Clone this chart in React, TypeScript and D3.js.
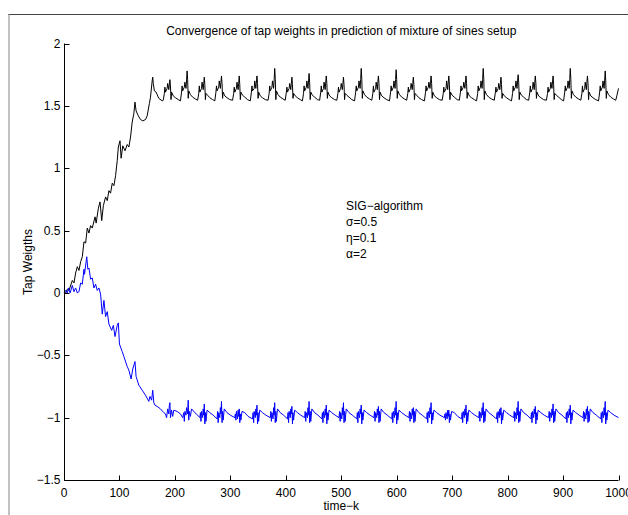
import React from "react";
import * as d3 from "d3";

const xTicks = [0, 100, 200, 300, 400, 500, 600, 700, 800, 900, 1000];
const yTicks = [-1.5, -1, -0.5, 0, 0.5, 1, 1.5, 2];
const titleText = "Convergence of tap weights in prediction of mixture of sines setup";
const xLabel = "time\u2212k";
const yLabel = "Tap Weigths";
const noteLines = ["SIG\u2212algorithm", "\u03c3=0.5", "\u03b7=0.1", "\u03b1=2"];

// black series: [k, weight]
const tapWeight1: [number, number][] = [
  [0,0],[3,0.0],[6,0.03],[9,0.02],[15,0.10],[18,0.08],[21,0.16],[24,0.21],[27,0.18],[30,0.25],[33,0.29],[36,0.41],[39,0.40],[42,0.52],[45,0.48],[48,0.54],[51,0.52],[56,0.61],[58,0.56],[62,0.68],[65,0.73],[68,0.58],[71,0.70],[75,0.77],[78,0.74],[81,0.82],[84,0.80],[87,0.88],[90,0.86],[93,0.94],[96,1.06],[98,1.17],[101,1.22],[103,1.08],[106,1.18],[110,1.14],[114,1.19],[117,1.17],[120,1.25],[123,1.37],[126,1.44],[128,1.53],[130,1.46],[134,1.42],[138,1.39],[142,1.38],[147,1.39],[150,1.42],[154,1.52],[156,1.57],[159,1.70],[160,1.73],[161,1.68],[163,1.62],[166,1.61],[171,1.56],[177,1.54],
  [179,1.545],[181,1.60],[182,1.65],[183,1.61],[186,1.64],[187,1.68],[189,1.63],[190,1.67],[191,1.71],[192,1.66],[193,1.55],[194,1.61],[197,1.58],[201,1.565],[206,1.55],
  [210,1.54],[212,1.61],[213,1.66],[214,1.62],[217,1.65],[218,1.69],[220,1.64],[221,1.70],[222,1.78],[223,1.71],[224,1.56],[225,1.62],[228,1.59],[232,1.57],[237,1.555],
  [241,1.545],[243,1.60],[244,1.66],[245,1.61],[248,1.64],[249,1.69],[251,1.63],[252,1.68],[253,1.73],[254,1.67],[255,1.55],[256,1.60],[259,1.585],[263,1.565],[268,1.55],
  [272,1.54],[274,1.61],[275,1.66],[276,1.62],[279,1.65],[280,1.70],[282,1.64],[283,1.69],[284,1.74],[285,1.68],[286,1.56],[287,1.61],[290,1.58],[294,1.565],[299,1.55],
  [304,1.545],[306,1.60],[307,1.65],[308,1.61],[311,1.64],[312,1.69],[314,1.63],[315,1.68],[316,1.74],[317,1.67],[318,1.55],[319,1.61],[322,1.585],[326,1.57],[331,1.55],
  [336,1.54],[338,1.61],[339,1.66],[340,1.62],[343,1.64],[344,1.70],[346,1.64],[347,1.69],[348,1.74],[349,1.68],[350,1.56],[351,1.61],[354,1.58],[358,1.565],[363,1.55],
  [368,1.545],[370,1.60],[371,1.66],[372,1.62],[375,1.65],[376,1.70],[378,1.64],[379,1.71],[380,1.80],[381,1.72],[382,1.55],[383,1.62],[386,1.59],[390,1.57],[395,1.555],
  [399,1.545],[401,1.61],[402,1.65],[403,1.61],[406,1.64],[407,1.68],[409,1.63],[410,1.68],[411,1.73],[412,1.67],[413,1.56],[414,1.60],[417,1.58],[421,1.565],[426,1.55],
  [430,1.54],[432,1.60],[433,1.66],[434,1.62],[437,1.65],[438,1.70],[440,1.64],[441,1.70],[442,1.76],[443,1.69],[444,1.55],[445,1.61],[448,1.585],[452,1.57],[457,1.55],
  [461,1.545],[463,1.61],[464,1.66],[465,1.61],[468,1.64],[469,1.69],[471,1.63],[472,1.69],[473,1.74],[474,1.68],[475,1.56],[476,1.61],[479,1.58],[483,1.565],[488,1.55],
  [492,1.545],[494,1.60],[495,1.65],[496,1.61],[499,1.64],[500,1.68],[502,1.63],[503,1.68],[504,1.73],[505,1.67],[506,1.55],[507,1.60],[510,1.585],[514,1.57],[519,1.55],
  [524,1.54],[526,1.61],[527,1.66],[528,1.62],[531,1.65],[532,1.70],[534,1.64],[535,1.71],[536,1.80],[537,1.72],[538,1.56],[539,1.62],[542,1.59],[546,1.57],[551,1.555],
  [555,1.545],[557,1.60],[558,1.66],[559,1.61],[562,1.64],[563,1.69],[565,1.63],[566,1.69],[567,1.74],[568,1.68],[569,1.55],[570,1.61],[573,1.58],[577,1.565],[582,1.55],
  [587,1.54],[589,1.61],[590,1.66],[591,1.62],[594,1.65],[595,1.70],[597,1.64],[598,1.71],[599,1.79],[600,1.71],[601,1.56],[602,1.62],[605,1.59],[609,1.57],[614,1.555],
  [618,1.545],[620,1.60],[621,1.65],[622,1.61],[625,1.64],[626,1.68],[628,1.63],[629,1.68],[630,1.73],[631,1.67],[632,1.55],[633,1.60],[636,1.585],[640,1.565],[645,1.55],
  [650,1.54],[652,1.61],[653,1.66],[654,1.62],[657,1.65],[658,1.69],[660,1.64],[661,1.69],[662,1.74],[663,1.68],[664,1.56],[665,1.61],[668,1.58],[672,1.565],[677,1.55],
  [682,1.545],[684,1.60],[685,1.65],[686,1.61],[689,1.64],[690,1.70],[692,1.63],[693,1.69],[694,1.74],[695,1.67],[696,1.55],[697,1.61],[700,1.585],[704,1.57],[709,1.55],
  [713,1.545],[715,1.61],[716,1.66],[717,1.62],[720,1.65],[721,1.69],[723,1.64],[724,1.69],[725,1.74],[726,1.68],[727,1.56],[728,1.61],[731,1.58],[735,1.565],[740,1.55],
  [744,1.54],[746,1.60],[747,1.66],[748,1.62],[751,1.65],[752,1.70],[754,1.64],[755,1.71],[756,1.80],[757,1.72],[758,1.55],[759,1.62],[762,1.59],[766,1.57],[771,1.555],
  [776,1.545],[778,1.61],[779,1.65],[780,1.61],[783,1.64],[784,1.68],[786,1.63],[787,1.68],[788,1.73],[789,1.67],[790,1.56],[791,1.60],[794,1.58],[798,1.565],[803,1.55],
  [807,1.54],[809,1.60],[810,1.66],[811,1.62],[814,1.65],[815,1.70],[817,1.64],[818,1.70],[819,1.75],[820,1.69],[821,1.55],[822,1.61],[825,1.585],[829,1.57],[834,1.55],
  [838,1.545],[840,1.61],[841,1.66],[842,1.61],[845,1.64],[846,1.69],[848,1.63],[849,1.69],[850,1.74],[851,1.68],[852,1.56],[853,1.61],[856,1.58],[860,1.565],[865,1.55],
  [870,1.545],[872,1.60],[873,1.65],[874,1.61],[877,1.64],[878,1.69],[880,1.64],[881,1.69],[882,1.74],[883,1.67],[884,1.55],[885,1.60],[888,1.585],[892,1.57],[897,1.55],
  [901,1.54],[903,1.61],[904,1.66],[905,1.62],[908,1.65],[909,1.70],[911,1.64],[912,1.71],[913,1.80],[914,1.72],[915,1.56],[916,1.62],[919,1.59],[923,1.57],[928,1.555],
  [932,1.545],[934,1.60],[935,1.66],[936,1.61],[939,1.64],[940,1.69],[942,1.63],[943,1.69],[944,1.74],[945,1.68],[946,1.55],[947,1.61],[950,1.58],[954,1.565],[959,1.55],
  [964,1.54],[966,1.61],[967,1.66],[968,1.62],[971,1.65],[972,1.70],[974,1.64],[975,1.70],[976,1.78],[977,1.70],[978,1.56],[979,1.62],[982,1.59],[986,1.57],[991,1.555],
  [995,1.545],[997,1.58],[999,1.62],[1000,1.64]
];

// blue series: [k, weight]
const tapWeight2: [number, number][] = [
  [0,0],[3,0.02],[6,0.0],[8,0.04],[11,0.0],[15,0.06],[18,0.01],[21,0.04],[24,0.0],[27,0.01],[30,0.08],[33,0.07],[36,0.19],[37,0.15],[41,0.29],[43,0.19],[45,0.20],[48,0.11],[51,0.12],[54,0.04],[57,0.07],[60,0.02],[63,0.04],[66,-0.01],[69,-0.17],[72,-0.06],[75,-0.19],[78,-0.15],[81,-0.25],[86,-0.30],[89,-0.26],[92,-0.35],[96,-0.26],[98,-0.24],[100,-0.41],[105,-0.47],[108,-0.51],[114,-0.59],[117,-0.62],[121,-0.69],[124,-0.61],[128,-0.55],[130,-0.67],[135,-0.74],[141,-0.78],[147,-0.82],[153,-0.87],[155,-0.83],[158,-0.86],[160,-0.78],[162,-0.88],[164,-0.90],[168,-0.91],[174,-0.93],[180,-0.96],[183,-0.97],[185,-1.00],[187,-0.93],[189,-0.97],[190,-0.90],[191,-0.88],[192,-1.00],[194,-0.94],[196,-0.99],[198,-0.94],[204,-0.95],[210,-0.97],[214,-1.00],[216,-0.96],[217,-1.03],[218,-0.95],[220,-0.98],[221,-0.92],[223,-0.97],[224,-0.86],[225,-1.02],[226,-0.95],[228,-0.99],[230,-0.93],[236,-0.96],[241,-0.98],
  [245,-1.00],[246,-0.96],[247,-1.03],[248,-0.95],[250,-1.00],[251,-0.93],[252,-0.98],[253,-0.89],[254,-1.05],[255,-0.96],[256,-1.03],[258,-0.94],[263,-0.96],[269,-0.98],
  [276,-1.01],[277,-0.95],[278,-1.04],[279,-0.96],[281,-1.00],[282,-0.92],[283,-0.97],[284,-0.87],[285,-1.04],[286,-0.95],[287,-1.02],[289,-0.93],[294,-0.96],[300,-0.98],
  [308,-1.00],[309,-0.97],[310,-1.02],[311,-0.95],[313,-1.01],[314,-0.94],[315,-0.99],[316,-0.93],[317,-1.04],[318,-0.97],[319,-1.02],[321,-0.95],[326,-0.96],[332,-0.99],
  [340,-1.01],[341,-0.96],[342,-1.04],[343,-0.95],[345,-1.00],[346,-0.93],[347,-0.98],[348,-0.90],[349,-1.05],[350,-0.96],[351,-1.03],[353,-0.94],[358,-0.96],[364,-0.98],
  [372,-1.00],[373,-0.95],[374,-1.03],[375,-0.96],[377,-1.01],[378,-0.92],[379,-0.98],[380,-0.88],[381,-1.04],[382,-0.95],[383,-1.03],[385,-0.93],[390,-0.96],[396,-0.98],
  [403,-1.01],[404,-0.96],[405,-1.04],[406,-0.95],[408,-1.00],[409,-0.93],[410,-0.97],[411,-0.91],[412,-1.05],[413,-0.96],[414,-1.02],[416,-0.94],[421,-0.96],[427,-0.98],
  [434,-1.00],[435,-0.95],[436,-1.03],[437,-0.96],[439,-1.00],[440,-0.92],[441,-0.98],[442,-0.87],[443,-1.04],[444,-0.95],[445,-1.03],[447,-0.93],[452,-0.96],[458,-0.98],
  [465,-1.01],[466,-0.96],[467,-1.04],[468,-0.95],[470,-1.00],[471,-0.93],[472,-0.98],[473,-0.90],[474,-1.05],[475,-0.96],[476,-1.02],[478,-0.94],[483,-0.96],[489,-0.98],
  [496,-1.00],[497,-0.95],[498,-1.03],[499,-0.96],[501,-1.01],[502,-0.92],[503,-0.98],[504,-0.88],[505,-1.04],[506,-0.95],[507,-1.03],[509,-0.93],[514,-0.96],[520,-0.98],
  [528,-1.01],[529,-0.96],[530,-1.04],[531,-0.95],[533,-1.00],[534,-0.93],[535,-0.97],[536,-0.90],[537,-1.05],[538,-0.96],[539,-1.02],[541,-0.94],[546,-0.96],[552,-0.98],
  [559,-1.00],[560,-0.95],[561,-1.03],[562,-0.96],[564,-1.00],[565,-0.93],[566,-0.98],[567,-0.91],[568,-1.04],[569,-0.95],[570,-1.03],[572,-0.93],[577,-0.96],[583,-0.98],
  [591,-1.01],[592,-0.96],[593,-1.04],[594,-0.95],[596,-1.00],[597,-0.92],[598,-0.98],[599,-0.87],[600,-1.05],[601,-0.96],[602,-1.02],[604,-0.94],[609,-0.96],[615,-0.98],
  [622,-1.00],[623,-0.95],[624,-1.03],[625,-0.96],[627,-1.01],[628,-0.93],[629,-0.98],[630,-0.92],[631,-1.04],[632,-0.95],[633,-1.03],[635,-0.93],[640,-0.96],[646,-0.98],
  [654,-1.01],[655,-0.96],[656,-1.04],[657,-0.95],[659,-1.00],[660,-0.92],[661,-0.97],[662,-0.88],[663,-1.05],[664,-0.96],[665,-1.02],[667,-0.94],[672,-0.96],[678,-0.98],
  [686,-1.00],[687,-0.97],[688,-1.02],[689,-0.96],[691,-1.01],[692,-0.94],[693,-0.99],[694,-0.94],[695,-1.04],[696,-0.97],[697,-1.02],[699,-0.95],[704,-0.96],[710,-0.99],
  [717,-1.01],[718,-0.96],[719,-1.04],[720,-0.95],[722,-1.00],[723,-0.93],[724,-0.98],[725,-0.90],[726,-1.05],[727,-0.96],[728,-1.03],[730,-0.94],[735,-0.96],[741,-0.98],
  [748,-1.00],[749,-0.95],[750,-1.03],[751,-0.96],[753,-1.00],[754,-0.92],[755,-0.98],[756,-0.88],[757,-1.04],[758,-0.95],[759,-1.03],[761,-0.93],[766,-0.96],[772,-0.98],
  [780,-1.01],[781,-0.96],[782,-1.04],[783,-0.95],[785,-1.00],[786,-0.93],[787,-0.98],[788,-0.92],[789,-1.05],[790,-0.96],[791,-1.02],[793,-0.94],[798,-0.96],[804,-0.98],
  [811,-1.00],[812,-0.95],[813,-1.03],[814,-0.96],[816,-1.01],[817,-0.92],[818,-0.98],[819,-0.87],[820,-1.04],[821,-0.95],[822,-1.03],[824,-0.93],[829,-0.96],[835,-0.98],
  [842,-1.01],[843,-0.96],[844,-1.04],[845,-0.95],[847,-1.00],[848,-0.93],[849,-0.97],[850,-0.91],[851,-1.05],[852,-0.96],[853,-1.02],[855,-0.94],[860,-0.96],[866,-0.98],
  [874,-1.00],[875,-0.95],[876,-1.03],[877,-0.96],[879,-1.00],[880,-0.93],[881,-0.98],[882,-0.89],[883,-1.04],[884,-0.95],[885,-1.03],[887,-0.93],[892,-0.96],[898,-0.98],
  [905,-1.01],[906,-0.96],[907,-1.04],[908,-0.95],[910,-1.00],[911,-0.93],[912,-0.98],[913,-0.90],[914,-1.05],[915,-0.96],[916,-1.02],[918,-0.94],[923,-0.96],[929,-0.98],
  [936,-1.00],[937,-0.95],[938,-1.03],[939,-0.96],[941,-1.01],[942,-0.93],[943,-0.98],[944,-0.91],[945,-1.04],[946,-0.95],[947,-1.03],[949,-0.93],[954,-0.96],[960,-0.98],
  [968,-1.01],[969,-0.96],[970,-1.04],[971,-0.95],[973,-1.00],[974,-0.92],[975,-0.98],[976,-0.87],[977,-1.05],[978,-0.96],[979,-1.02],[981,-0.94],[986,-0.96],[992,-0.98],
  [1000,-1.00]
];

const W = 628;
const H = 515;
const FONT = "'Liberation Sans', Arial, Helvetica, sans-serif";
const FS = 12;

export default function App() {
  const x = d3.scaleLinear().domain([0, 1000]).range([64, 618.5]);
  const y = d3.scaleLinear().domain([-1.5, 2]).range([480, 43.5]);
  const line = d3
    .line<[number, number]>()
    .x((d) => x(d[0]))
    .y((d) => y(d[1]));
  const axX = 64.5;
  const axY = 480.5;
  const cx = (x(0) + x(1000)) / 2;
  return (
    <svg
      width={W}
      height={H}
      style={{ position: "absolute", left: 0, top: 0, background: "#fff" }}
      fontFamily={FONT}
    >
      <rect x={0} y={0} width={W} height={H} fill="#fff" />
      {/* figure frame */}
      <line x1={8} y1={14.5} x2={W} y2={14.5} stroke="#444" strokeWidth={1} />
      <line x1={9} y1={14} x2={9} y2={H} stroke="#999" strokeWidth={1.2} />

      <text x={cx} y={35} textAnchor="middle" fontSize={FS} fill="#000">
        {titleText}
      </text>

      {/* data */}
      <path d={line(tapWeight1) || ""} fill="none" stroke="#000" strokeWidth={1} strokeLinejoin="round" />
      <path d={line(tapWeight2) || ""} fill="none" stroke="#0000ff" strokeWidth={1} strokeLinejoin="round" />

      {/* axes */}
      <line x1={axX} y1={y(2)} x2={axX} y2={axY} stroke="#000" strokeWidth={1} />
      <line x1={axX} y1={axY} x2={x(1000)} y2={axY} stroke="#000" strokeWidth={1} />
      {yTicks.map((t) => (
        <g key={"y" + t}>
          <line x1={axX} x2={axX + 5} y1={Math.round(y(t)) + 0.5} y2={Math.round(y(t)) + 0.5} stroke="#000" />
          <text x={axX - 4} y={y(t) + 4} textAnchor="end" fontSize={FS} fill="#000">
            {t < 0 ? "\u2212" + Math.abs(t) : String(t)}
          </text>
        </g>
      ))}
      {xTicks.map((t) => (
        <g key={"x" + t}>
          <line x1={Math.round(x(t)) + 0.5} x2={Math.round(x(t)) + 0.5} y1={axY} y2={axY - 5} stroke="#000" />
          <text x={x(t)} y={497} textAnchor="middle" fontSize={FS} fill="#000">
            {String(t)}
          </text>
        </g>
      ))}
      <text x={cx} y={510} textAnchor="middle" fontSize={FS} fill="#000">
        {xLabel}
      </text>
      <text
        transform={`translate(32, ${(y(2) + axY) / 2}) rotate(-90)`}
        textAnchor="middle"
        fontSize={FS}
        fill="#000"
      >
        {yLabel}
      </text>
      {noteLines.map((s, i) => (
        <text key={s} x={346} y={210 + i * 16} fontSize={FS} fill="#000">
          {s}
        </text>
      ))}
    </svg>
  );
}
